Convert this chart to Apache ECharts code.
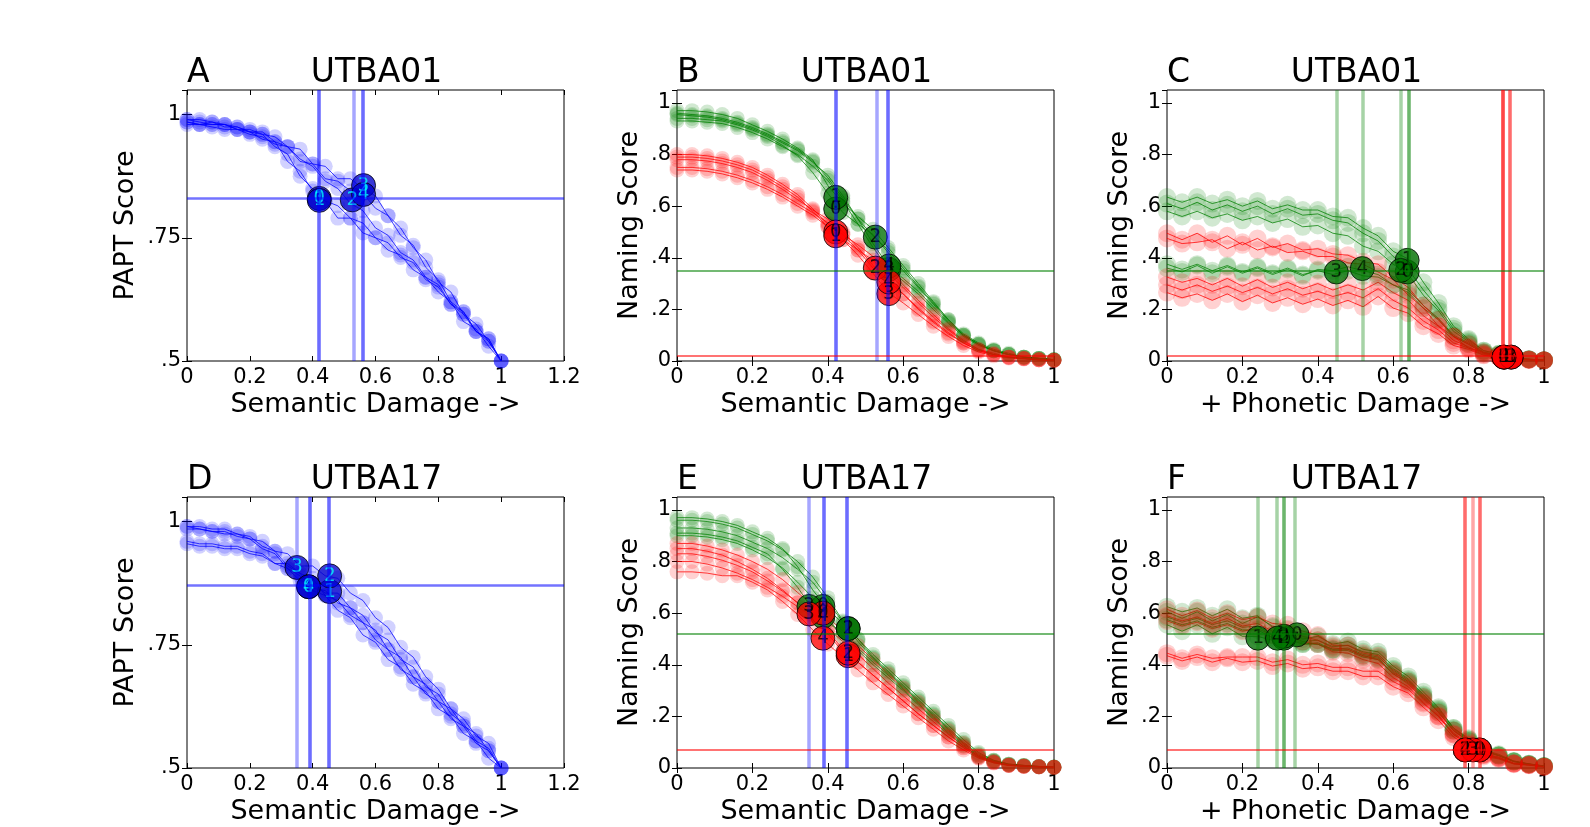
<!DOCTYPE html>
<html style="height: 100%">
<head>
<meta charset="utf-8">
<script src="https://cdn.jsdelivr.net/npm/echarts@6/dist/echarts.min.js"></script>
</head>
<body style="height: 100%; margin: 0; background: #fff">
<div id="container" style="width: 1590px; height: 827px"></div>
<script type="text/javascript">

// damage levels where each run was scored
var DAMAGE = [0, 0.04, 0.08, 0.12, 0.16, 0.2, 0.24, 0.28, 0.32, 0.36, 0.4, 0.44, 0.48,
              0.52, 0.56, 0.6, 0.64, 0.68, 0.72, 0.76, 0.8, 0.84, 0.88, 0.92, 0.96, 1];

var PAPT_TICKS = [0.5, 0.75, 1];
var PAPT_TICK_LABELS = ['.5', '.75', '1'];
var NAMING_TICKS = [0, 0.2, 0.4, 0.6, 0.8, 1];
var NAMING_TICK_LABELS = ['0', '.2', '.4', '.6', '.8', '1'];
var SEM_TICKS = [0, 0.2, 0.4, 0.6, 0.8, 1, 1.2];
var SEM_TICK_LABELS = ['0', '0.2', '0.4', '0.6', '0.8', '1', '1.2'];
var DMG_TICKS = [0, 0.2, 0.4, 0.6, 0.8, 1];
var DMG_TICK_LABELS = ['0', '0.2', '0.4', '0.6', '0.8', '1'];

// ---- A: UTBA01, PAPT vs semantic damage
var A_RUNS = [
  [.985,.98,.985,.975,.975,.965,.96,.935,.92,.875,.85,.825,.815,.79,.78,.75,.74,.71,.70,.665,.65,.615,.60,.56,.545,.50],
  [.99,.985,.98,.98,.97,.965,.95,.945,.905,.885,.845,.825,.79,.79,.76,.75,.725,.715,.685,.67,.64,.62,.58,.565,.53,.50],
  [.99,.99,.985,.98,.975,.965,.965,.945,.935,.91,.895,.865,.85,.82,.805,.77,.755,.72,.705,.67,.655,.615,.595,.56,.54,.50],
  [.985,.98,.98,.98,.97,.97,.96,.955,.935,.93,.90,.895,.87,.87,.85,.835,.795,.77,.73,.705,.66,.64,.595,.575,.54,.50],
  [.98,.98,.975,.97,.97,.96,.955,.94,.935,.905,.90,.87,.865,.845,.84,.81,.795,.755,.735,.69,.665,.62,.60,.56,.545,.50]
];
var A_CUT = [0.421, 0.421, 0.526, 0.562, 0.562];
var A_AT = [0.83, 0.826, 0.827, 0.856, 0.838];
var A_PATIENT = 0.828;

// ---- B: UTBA01, naming vs semantic damage
var B_GREEN = [
  [.94,.94,.935,.93,.915,.895,.87,.835,.795,.73,.65,.575,.53,.49,.42,.35,.285,.22,.155,.10,.065,.04,.025,.015,.01,.005],
  [.97,.97,.965,.955,.94,.915,.89,.86,.825,.78,.68,.61,.56,.51,.44,.37,.30,.23,.16,.10,.065,.04,.025,.015,.01,.005],
  [.96,.955,.95,.94,.925,.905,.88,.85,.82,.775,.71,.63,.55,.485,.43,.36,.29,.225,.16,.105,.07,.045,.03,.015,.01,.005],
  [.93,.93,.925,.92,.905,.885,.86,.83,.80,.755,.70,.62,.53,.44,.36,.31,.26,.20,.145,.095,.06,.04,.025,.015,.01,.005],
  [.955,.95,.945,.935,.92,.90,.875,.845,.815,.77,.72,.64,.55,.455,.37,.32,.27,.21,.15,.10,.065,.04,.025,.015,.01,.005]
];
var B_RED = [
  [.80,.80,.795,.785,.77,.75,.72,.685,.645,.59,.53,.49,.45,.405,.355,.295,.235,.18,.125,.08,.045,.03,.015,.01,.005,.003],
  [.79,.79,.785,.775,.76,.74,.71,.675,.635,.58,.52,.47,.43,.39,.34,.285,.225,.17,.12,.075,.045,.025,.015,.01,.005,.003],
  [.78,.78,.775,.765,.75,.73,.70,.665,.625,.585,.55,.50,.44,.37,.31,.26,.20,.15,.105,.07,.04,.025,.015,.01,.005,.003],
  [.74,.74,.735,.725,.71,.69,.665,.635,.60,.565,.52,.47,.41,.34,.265,.225,.18,.135,.095,.06,.035,.02,.012,.008,.005,.003],
  [.75,.75,.745,.735,.72,.70,.675,.645,.61,.575,.535,.49,.43,.36,.31,.26,.205,.155,.11,.07,.04,.025,.015,.01,.005,.003]
];
var B_GREEN_AT = [0.589, 0.634, 0.48, 0.355, 0.368];
var B_RED_AT = [0.50, 0.485, 0.36, 0.261, 0.306];
var UTBA01_NAMING = 0.351;
var UTBA01_FLOOR = 0.019;

// ---- C: UTBA01, naming vs added phonetic damage
var C_GREEN = [
  [.61,.59,.615,.585,.605,.58,.60,.57,.59,.565,.57,.545,.535,.495,.465,.405,.355,.275,.205,.125,.08,.04,.028,.01,.007,.003],
  [.635,.615,.635,.61,.625,.60,.62,.59,.605,.585,.585,.56,.555,.515,.485,.425,.395,.305,.225,.135,.085,.04,.028,.01,.007,.003],
  [.58,.56,.58,.555,.57,.545,.56,.535,.55,.52,.525,.495,.485,.445,.425,.375,.335,.255,.195,.115,.075,.035,.025,.01,.007,.003],
  [.375,.355,.375,.35,.37,.345,.365,.34,.36,.335,.35,.335,.35,.33,.325,.295,.265,.205,.16,.095,.065,.03,.023,.008,.006,.003],
  [.36,.345,.37,.34,.365,.34,.36,.335,.355,.33,.355,.35,.365,.35,.335,.295,.275,.215,.165,.10,.07,.033,.023,.008,.006,.003]
];
var C_RED = [
  [.495,.47,.495,.46,.485,.45,.475,.44,.455,.43,.435,.415,.41,.385,.375,.325,.285,.215,.16,.095,.065,.03,.023,.008,.006,.003],
  [.475,.455,.46,.47,.435,.46,.43,.445,.42,.425,.405,.405,.38,.375,.345,.315,.255,.205,.135,.095,.05,.034,.015,.012,.004,.003],
  [.325,.305,.32,.295,.32,.29,.315,.285,.305,.28,.30,.275,.295,.275,.305,.265,.235,.175,.135,.08,.055,.027,.019,.008,.006,.003],
  [.295,.275,.295,.27,.29,.265,.285,.26,.28,.255,.27,.25,.265,.245,.28,.235,.205,.155,.12,.07,.05,.024,.017,.007,.005,.002],
  [.265,.245,.26,.235,.26,.23,.255,.225,.245,.22,.24,.215,.235,.21,.25,.205,.185,.135,.105,.06,.045,.022,.016,.007,.004,.002]
];
var C_GREEN_CUT = [0.637, 0.637, 0.62, 0.449, 0.518];
var C_GREEN_AT = [0.345, 0.39, 0.351, 0.345, 0.358];
var C_RED_CUT = [0.894, 0.913, 0.894, 0.913, 0.894];
var C_RED_AT = [0.015, 0.015, 0.015, 0.015, 0.015];

// ---- D: UTBA17, PAPT vs semantic damage
var D_RUNS = [
  [.99,.99,.985,.985,.975,.97,.95,.94,.91,.895,.865,.86,.835,.825,.795,.78,.74,.725,.685,.67,.635,.62,.585,.57,.535,.50],
  [.96,.955,.955,.95,.95,.94,.935,.915,.905,.88,.875,.855,.855,.825,.81,.775,.76,.72,.705,.665,.65,.61,.59,.555,.54,.50],
  [.985,.985,.98,.975,.975,.965,.96,.94,.935,.91,.91,.89,.885,.855,.84,.805,.785,.745,.725,.685,.66,.62,.60,.565,.55,.50],
  [.955,.95,.95,.945,.945,.935,.93,.915,.915,.895,.885,.85,.84,.81,.795,.76,.74,.70,.685,.65,.635,.60,.585,.55,.535,.50],
  [.99,.985,.98,.98,.97,.965,.945,.935,.905,.89,.86,.85,.82,.805,.77,.755,.72,.705,.67,.655,.62,.605,.57,.555,.52,.50]
];
var D_CUT = [0.387, 0.454, 0.454, 0.35, 0.387];
var D_AT = [0.868, 0.858, 0.89, 0.907, 0.868];
var D_PATIENT = 0.867;

// ---- E: UTBA17, naming vs semantic damage
var E_GREEN = [
  [.97,.97,.965,.955,.94,.915,.89,.85,.78,.69,.615,.56,.50,.44,.385,.33,.275,.22,.165,.11,.06,.03,.015,.01,.006,.004],
  [.96,.96,.955,.945,.93,.905,.88,.845,.80,.74,.66,.57,.50,.43,.375,.32,.265,.21,.155,.10,.055,.03,.015,.01,.006,.004],
  [.93,.93,.925,.915,.90,.875,.85,.815,.77,.72,.645,.565,.49,.425,.37,.315,.26,.205,.15,.095,.05,.028,.015,.01,.006,.004],
  [.91,.91,.905,.895,.88,.855,.83,.77,.70,.615,.57,.52,.465,.41,.36,.305,.25,.195,.14,.09,.045,.025,.012,.008,.005,.003],
  [.90,.90,.895,.885,.87,.845,.815,.775,.72,.66,.57,.51,.455,.40,.35,.30,.245,.19,.135,.085,.045,.025,.012,.008,.005,.003]
];
var E_RED = [
  [.87,.87,.86,.845,.825,.80,.77,.73,.68,.63,.585,.53,.475,.42,.365,.31,.255,.20,.145,.095,.05,.025,.012,.008,.005,.003],
  [.85,.85,.84,.825,.80,.77,.735,.69,.64,.59,.52,.45,.41,.36,.31,.26,.21,.165,.12,.078,.04,.02,.01,.007,.005,.003],
  [.83,.83,.82,.805,.785,.76,.725,.685,.64,.595,.53,.46,.41,.36,.31,.26,.21,.165,.12,.08,.042,.022,.011,.007,.005,.003],
  [.80,.80,.79,.775,.755,.73,.70,.665,.625,.585,.54,.49,.44,.385,.33,.28,.23,.18,.13,.085,.045,.023,.011,.007,.005,.003],
  [.76,.76,.755,.745,.745,.72,.69,.645,.595,.535,.48,.43,.38,.33,.285,.24,.195,.15,.105,.07,.038,.02,.01,.006,.004,.002]
];
var E_GREEN_AT = [0.626, 0.54, 0.54, 0.626, 0.587];
var E_RED_AT = [0.60, 0.435, 0.445, 0.597, 0.503];
var UTBA17_NAMING = 0.519;
var UTBA17_FLOOR = 0.065;

// ---- F: UTBA17, naming vs added phonetic damage
var F_GREEN = [
  [.605,.58,.605,.57,.595,.56,.585,.55,.54,.50,.51,.48,.49,.46,.45,.395,.355,.295,.235,.155,.115,.07,.053,.027,.016,.008],
  [.555,.53,.555,.52,.545,.51,.51,.495,.50,.48,.485,.46,.465,.44,.43,.38,.34,.28,.225,.15,.11,.065,.048,.025,.015,.007],
  [.585,.565,.58,.555,.57,.545,.55,.515,.505,.485,.48,.455,.455,.43,.42,.365,.33,.27,.215,.145,.105,.065,.048,.025,.015,.007],
  [.625,.605,.62,.59,.615,.58,.59,.545,.51,.49,.495,.47,.475,.45,.44,.385,.345,.285,.23,.155,.11,.067,.05,.027,.016,.008],
  [.575,.555,.57,.545,.56,.535,.535,.505,.50,.48,.48,.46,.46,.435,.425,.37,.335,.275,.22,.145,.105,.065,.048,.025,.015,.007]
];
var F_RED = [
  [.615,.59,.61,.58,.60,.575,.585,.56,.555,.53,.515,.475,.475,.445,.435,.375,.335,.275,.215,.145,.10,.055,.043,.019,.014,.006],
  [.59,.57,.585,.56,.58,.55,.56,.53,.535,.51,.495,.465,.46,.435,.42,.365,.325,.265,.205,.135,.095,.053,.041,.017,.012,.005],
  [.57,.55,.565,.54,.555,.53,.54,.515,.515,.49,.48,.45,.445,.42,.405,.35,.315,.255,.20,.13,.09,.05,.038,.017,.012,.005],
  [.445,.425,.44,.425,.43,.43,.43,.41,.42,.40,.405,.39,.39,.375,.375,.335,.305,.25,.20,.13,.09,.05,.038,.017,.012,.005],
  [.435,.415,.43,.41,.425,.41,.415,.395,.405,.385,.39,.375,.375,.355,.355,.315,.29,.235,.185,.12,.085,.045,.035,.015,.011,.004]
];
var F_GREEN_CUT = [0.345, 0.241, 0.31, 0.31, 0.293];
var F_GREEN_AT = [0.516, 0.503, 0.503, 0.51, 0.503];
var F_RED_CUT = [0.829, 0.829, 0.791, 0.812, 0.791];
var F_RED_AT = [0.07, 0.07, 0.07, 0.07, 0.07];

var FONT = 'DejaVu Sans';
var BLUE = '#0000ff', GREEN = '#008000', RED = '#ff0000';

var panels = [
  { letter: 'A', title: 'UTBA01', left: 187, top: 90, xmax: 1.2, ymin: 0.5, ystep: 0.25, xticks: SEM_TICKS, xlabels: SEM_TICK_LABELS,
    yticks: PAPT_TICKS, ylabels: PAPT_TICK_LABELS, xname: 'Semantic Damage ->', yname: 'PAPT Score', ygap: 48, dot: 15,
    groups: [{ runs: A_RUNS, color: BLUE, cut: A_CUT, at: A_AT, cutColor: BLUE, mark: '#0000cc', text: '#00ffff' }],
    hlines: [{ y: A_PATIENT, color: BLUE, width: 2.5 }] },
  { letter: 'B', title: 'UTBA01', left: 677, top: 90, xmax: 1, ymin: 0, ystep: 0.2, xticks: DMG_TICKS, xlabels: DMG_TICK_LABELS,
    yticks: NAMING_TICKS, ylabels: NAMING_TICK_LABELS, xname: 'Semantic Damage ->', yname: 'Naming Score', ygap: 34, dot: 15,
    groups: [{ runs: B_GREEN, color: GREEN, cut: A_CUT, at: B_GREEN_AT, cutColor: BLUE, mark: '#007000', text: '#000' },
             { runs: B_RED, color: RED, cut: null, at: B_RED_AT, mark: '#ff0000', text: '#000' }],
    hlines: [{ y: UTBA01_NAMING, color: GREEN, width: 2 }, { y: UTBA01_FLOOR, color: RED, width: 2 }] },
  { letter: 'C', title: 'UTBA01', left: 1167, top: 90, xmax: 1, ymin: 0, ystep: 0.2, xticks: DMG_TICKS, xlabels: DMG_TICK_LABELS,
    yticks: NAMING_TICKS, ylabels: NAMING_TICK_LABELS, xname: '+ Phonetic Damage ->', yname: 'Naming Score', ygap: 34, dot: 18,
    groups: [{ runs: C_GREEN, color: GREEN, cut: C_GREEN_CUT, at: C_GREEN_AT, cutColor: GREEN, mark: '#007000', text: '#000' },
             { runs: C_RED, color: RED, cut: C_RED_CUT, at: C_RED_AT, cutColor: RED, mark: '#ff0000', text: '#000' }],
    hlines: [{ y: UTBA01_NAMING, color: GREEN, width: 2 }, { y: UTBA01_FLOOR, color: RED, width: 2 }] },
  { letter: 'D', title: 'UTBA17', left: 187, top: 497, xmax: 1.2, ymin: 0.5, ystep: 0.25, xticks: SEM_TICKS, xlabels: SEM_TICK_LABELS,
    yticks: PAPT_TICKS, ylabels: PAPT_TICK_LABELS, xname: 'Semantic Damage ->', yname: 'PAPT Score', ygap: 48, dot: 15,
    groups: [{ runs: D_RUNS, color: BLUE, cut: D_CUT, at: D_AT, cutColor: BLUE, mark: '#0000cc', text: '#00ffff' }],
    hlines: [{ y: D_PATIENT, color: BLUE, width: 2.5 }] },
  { letter: 'E', title: 'UTBA17', left: 677, top: 497, xmax: 1, ymin: 0, ystep: 0.2, xticks: DMG_TICKS, xlabels: DMG_TICK_LABELS,
    yticks: NAMING_TICKS, ylabels: NAMING_TICK_LABELS, xname: 'Semantic Damage ->', yname: 'Naming Score', ygap: 34, dot: 15,
    groups: [{ runs: E_GREEN, color: GREEN, cut: D_CUT, at: E_GREEN_AT, cutColor: BLUE, mark: '#007000', text: '#000' },
             { runs: E_RED, color: RED, cut: null, at: E_RED_AT, mark: '#ff0000', text: '#000' }],
    hlines: [{ y: UTBA17_NAMING, color: GREEN, width: 2 }, { y: UTBA17_FLOOR, color: RED, width: 2 }] },
  { letter: 'F', title: 'UTBA17', left: 1167, top: 497, xmax: 1, ymin: 0, ystep: 0.2, xticks: DMG_TICKS, xlabels: DMG_TICK_LABELS,
    yticks: NAMING_TICKS, ylabels: NAMING_TICK_LABELS, xname: '+ Phonetic Damage ->', yname: 'Naming Score', ygap: 34, dot: 18,
    groups: [{ runs: F_GREEN, color: GREEN, cut: F_GREEN_CUT, at: F_GREEN_AT, cutColor: GREEN, mark: '#007000', text: '#000' },
             { runs: F_RED, color: RED, cut: F_RED_CUT, at: F_RED_AT, cutColor: RED, mark: '#ff0000', text: '#000' }],
    hlines: [{ y: UTBA17_NAMING, color: GREEN, width: 2 }, { y: UTBA17_FLOOR, color: RED, width: 2 }] }
];

var PW = 377, PH = 271;
var grids = [], xAxes = [], yAxes = [], series = [], titles = [];

function labeler(ticks, labels) {
  return function (v) {
    for (var k = 0; k < ticks.length; k++) {
      if (Math.abs(ticks[k] - v) < 1e-6) return labels[k];
    }
    return '';
  };
}

panels.forEach(function (p, i) {
  var ymax = 1.05;
  grids.push({ left: p.left, top: p.top, width: PW, height: PH, show: true,
               borderColor: '#000', borderWidth: 1, backgroundColor: 'transparent' });

  var tick = { inside: true, length: 5, lineStyle: { color: '#000', width: 1 } };
  var tickFont = { color: '#000', fontSize: 21, fontFamily: FONT, margin: 6 };
  xAxes.push({
    gridIndex: i, type: 'value', min: 0, max: p.xmax, interval: 0.2, position: 'bottom',
    axisLine: { show: false }, splitLine: { show: false }, axisTick: tick,
    axisLabel: Object.assign({ formatter: labeler(p.xticks, p.xlabels) }, tickFont),
    name: p.xname, nameLocation: 'middle', nameGap: 30,
    nameTextStyle: { color: '#000', fontSize: 27, fontFamily: FONT }
  });
  xAxes.push({
    gridIndex: i, type: 'value', min: 0, max: p.xmax, interval: 0.2, position: 'top',
    axisLine: { show: false }, splitLine: { show: false }, axisTick: tick,
    axisLabel: { show: false }
  });
  yAxes.push({
    gridIndex: i, type: 'value', min: p.ymin, max: ymax, interval: p.ystep, position: 'left',
    axisLine: { show: false }, splitLine: { show: false }, axisTick: tick,
    axisLabel: Object.assign({ formatter: labeler(p.yticks, p.ylabels), showMaxLabel: false }, tickFont),
    name: p.yname, nameLocation: 'middle', nameGap: p.ygap, nameRotate: 90,
    nameTextStyle: { color: '#000', fontSize: 27, fontFamily: FONT }
  });
  yAxes.push({
    gridIndex: i, type: 'value', min: p.ymin, max: ymax, interval: p.ystep, position: 'right',
    axisLine: { show: false }, splitLine: { show: false }, axisTick: tick,
    axisLabel: { show: false }
  });

  var ax = i * 2;

  // each run: thin line through its scores, with faint trial circles
  p.groups.forEach(function (g) {
    g.runs.forEach(function (ys) {
      series.push({
        type: 'line', xAxisIndex: ax, yAxisIndex: ax, z: 2,
        data: DAMAGE.map(function (x, k) { return [x, ys[k]]; }),
        symbol: 'circle', symbolSize: p.dot, showSymbol: true, silent: true,
        lineStyle: { color: g.color, width: 1, opacity: 0.75 },
        itemStyle: { color: g.color, opacity: 0.18 },
        animation: false
      });
    });
  });

  // threshold and patient lines
  var lines = [];
  p.groups.forEach(function (g) {
    if (!g.cut) return;
    g.cut.forEach(function (c) {
      lines.push({ xAxis: c, lineStyle: { color: g.cutColor, width: 3.5, opacity: 0.35, type: 'solid' } });
    });
  });
  p.hlines.forEach(function (h) {
    lines.push({ yAxis: h.y, lineStyle: { color: h.color, width: h.width, opacity: 0.55, type: 'solid' } });
  });
  series.push({
    type: 'line', xAxisIndex: ax, yAxisIndex: ax, z: 3, data: [], silent: true, animation: false,
    markLine: { silent: true, symbol: ['none', 'none'], label: { show: false }, animation: false, data: lines }
  });

  // labelled run markers at each threshold
  p.groups.forEach(function (g) {
    var cut = g.cut || p.groups[0].cut;
    series.push({
      type: 'scatter', xAxisIndex: ax, yAxisIndex: ax, z: 4, silent: true, animation: false,
      data: cut.map(function (c, k) { return [c, g.at[k], k]; }),
      symbolSize: 24,
      itemStyle: { color: g.mark, opacity: 0.78, borderColor: '#000', borderWidth: 1 },
      label: { show: true, position: 'inside', color: g.text, fontSize: 19, fontFamily: 'DejaVu Sans Mono',
               formatter: function (d) { return String(d.data[2]); } }
    });
  });

  titles.push({ text: p.title, left: p.left + PW / 2 - 4, top: p.top - 38, textAlign: 'center',
                textStyle: { fontSize: 33, fontWeight: 'normal', color: '#000', fontFamily: FONT } });
  titles.push({ text: p.letter, left: p.left - 5, top: p.top - 38,
                textStyle: { fontSize: 33, fontWeight: 'normal', color: '#000', fontFamily: FONT } });
});

var chart = echarts.init(document.getElementById('container'), null, { renderer: 'canvas' });
chart.setOption({
  animation: false,
  backgroundColor: '#fff',
  title: titles,
  grid: grids,
  xAxis: xAxes,
  yAxis: yAxes,
  series: series
});
</script>
</body>
</html>
